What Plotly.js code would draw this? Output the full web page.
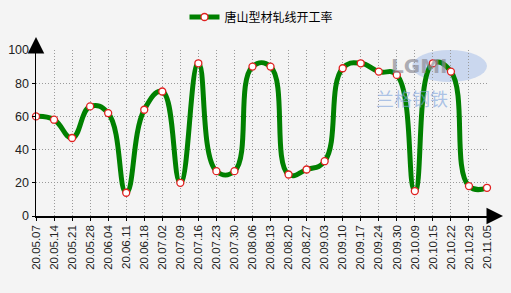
<!DOCTYPE html>
<html><head><meta charset="utf-8">
<script src="https://cdn.plot.ly/plotly-3.0.1.min.js"></script>
<style>html,body{margin:0;padding:0;background:#f4f4f4;}#chart{width:511px;height:293px;}</style>
</head><body><div id="chart"></div>
<script>
const categories = ["20.05.07","20.05.14","20.05.21","20.05.28","20.06.04","20.06.11","20.06.18","20.07.02","20.07.09","20.07.16","20.07.23","20.07.30","20.08.06","20.08.13","20.08.20","20.08.27","20.09.03","20.09.10","20.09.17","20.09.24","20.09.30","20.10.09","20.10.15","20.10.22","20.10.29","20.11.05"];
const seriesName = "唐山型材轧线开工率";
const values = [60,58,47,66,62,14,64,75,20,92,27,27,90,90,25,28,33,89,92,87,85,15,92,87,18,17];
const yTicks = [0,20,40,60,80,100];

const trace = {
  x: categories, y: values, name: seriesName, type: 'scatter', mode: 'lines+markers',
  line: {color: '#008000', width: 5, shape: 'spline', smoothing: 1.3},
  marker: {symbol: 'circle', size: 7, color: '#ffffff', line: {color: '#e02020', width: 1.3}},
  cliponaxis: false
};

const gridStyle = {showgrid: true, gridcolor: '#9a9a9a', griddash: '1px,2px', gridwidth: 1};

const layout = {
  width: 511, height: 293,
  paper_bgcolor: '#f4f4f4', plot_bgcolor: '#f4f4f4',
  margin: {l: 36, r: 24, t: 50, b: 77, autoexpand: false},
  font: {family: 'Liberation Sans', size: 12, color: '#222'},
  showlegend: true,
  legend: {orientation: 'h', x: 0.5, xanchor: 'center', y: 1 + 33/166, yanchor: 'middle',
    font: {family: 'Noto Sans CJK SC', size: 12, color: '#000'}, bgcolor: 'rgba(0,0,0,0)'},
  xaxis: Object.assign({
    type: 'category', range: [0, categories.length - 1],
    tickangle: -90, tickfont: {family: 'Liberation Sans', size: 11.5, color: '#222'},
    showline: true, linecolor: '#000', linewidth: 1.5,
    ticks: 'outside', ticklen: 3, tickcolor: '#000', zeroline: false, fixedrange: true
  }, gridStyle),
  yaxis: Object.assign({
    range: [0, 100], tickvals: yTicks, ticktext: yTicks.map(String),
    tickfont: {family: 'Liberation Sans', size: 12.5, color: '#222'},
    showline: true, linecolor: '#000', linewidth: 1.5,
    ticks: 'outside', ticklen: 3, tickcolor: '#000', zeroline: false, fixedrange: true
  }, gridStyle),
  shapes: [
    {type: 'circle', xref: 'paper', yref: 'paper', x0: 0.834, x1: 1.0, y0: 0.807, y1: 1.0,
     fillcolor: 'rgba(150,180,230,0.45)', line: {width: 0}, layer: 'below'}
  ],
  annotations: [
    {xref: 'paper', yref: 'paper', x: 0, y: 1 + 13/166, ax: 0, ay: 13, axref: 'pixel', ayref: 'pixel',
     showarrow: true, arrowhead: 2, arrowsize: 2.2, arrowwidth: 1.5, arrowcolor: '#000', text: ''},
    {xref: 'paper', yref: 'paper', x: 1 + 16/451, y: 0, ax: -16, ay: 0, axref: 'pixel', ayref: 'pixel',
     showarrow: true, arrowhead: 2, arrowsize: 2.2, arrowwidth: 1.5, arrowcolor: '#000', text: ''},
    {xref: 'paper', yref: 'paper', x: 0.917, y: 0.905, yanchor: 'middle', showarrow: false, text: '<b>LGMI</b>',
     font: {family: 'DejaVu Sans', size: 20, color: 'rgba(140,140,150,0.7)'}},
    {xref: 'paper', yref: 'paper', x: 0.917, y: 0.71, yanchor: 'middle', showarrow: false, text: '兰格钢铁',
     font: {family: 'Noto Sans CJK SC', size: 18, color: 'rgba(130,165,220,0.65)'}}
  ]
};

Plotly.newPlot('chart', [trace], layout, {displayModeBar: false, staticPlot: true});
</script></body></html>
